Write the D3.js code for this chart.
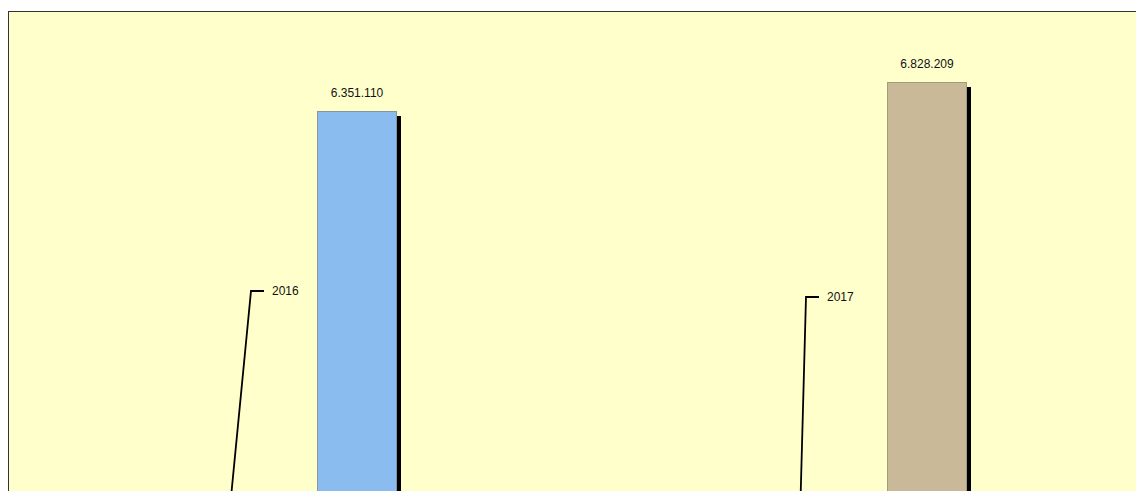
<!DOCTYPE html>
<html>
<head>
<meta charset="utf-8">
<script src="https://cdn.jsdelivr.net/npm/d3@7"></script>
<style>
  html, body { margin: 0; padding: 0; background: #fff; }
  svg { display: block; font-family: "Liberation Sans", Arial, sans-serif; }
</style>
</head>
<body>
<script>
// 데이터
const years = ['2016', '2017'];
const amounts = [6351110, 6828209];
const valueLabels = ['6.351.110', '6.828.209'];
const barColors = ['#8bbcf0', '#cab999'];
const edgeColors = ['#8a949c', '#a19d76'];

const width = 1136, height = 491;
const frame = { left: 8.5, top: 11.5 };
const baseY = 497;      // 기준선은 화면 아래쪽으로 잘려 있음
const barWidth = 80;

const svg = d3.select(document.body)
  .append('svg')
  .attr('width', width)
  .attr('height', height);

// 배경
svg.append('rect')
  .attr('x', frame.left).attr('y', frame.top)
  .attr('width', width + 10).attr('height', height + 10)
  .attr('fill', '#ffffcc')
  .attr('stroke', '#333')
  .attr('stroke-width', 1);

const xScale = d3.scalePoint()
  .domain(years)
  .range([357, 927]);

const yScale = d3.scaleLinear()
  .domain([0, d3.max(amounts)])
  .range([baseY, 82]);

const g = svg.append('g');

// 그림자
g.selectAll('.shadow')
  .data(years)
  .join('rect')
  .attr('class', 'shadow')
  .attr('x', d => xScale(d) - barWidth / 2 + 4)
  .attr('y', (d, i) => yScale(amounts[i]) + 5)
  .attr('width', barWidth)
  .attr('height', (d, i) => baseY - yScale(amounts[i]))
  .attr('fill', '#000');

// 막대
g.selectAll('.bar')
  .data(years)
  .join('rect')
  .attr('class', 'bar')
  .attr('x', d => xScale(d) - barWidth / 2 + 0.5)
  .attr('y', (d, i) => yScale(amounts[i]) + 0.5)
  .attr('width', barWidth - 1)
  .attr('height', (d, i) => baseY - yScale(amounts[i]))
  .attr('fill', (d, i) => barColors[i])
  .attr('stroke', (d, i) => edgeColors[i])
  .attr('stroke-width', 1);

// 값 표시
g.selectAll('.value')
  .data(years)
  .join('text')
  .attr('class', 'value')
  .attr('x', d => xScale(d))
  .attr('y', (d, i) => yScale(amounts[i]) - 14)
  .attr('text-anchor', 'middle')
  .attr('font-size', 12)
  .attr('fill', '#111')
  .text((d, i) => valueLabels[i]);

// 연도 지시선 (막대 중심 기준 위치)
const leader = [
  { dx: -106, y: 291, slope: 0.097 },
  { dx: -121, y: 297, slope: 0.027 }
];
years.forEach((d, i) => {
  const L = leader[i];
  const ex = xScale(d) + L.dx;
  const endY = height + 20;
  g.append('path')
    .attr('d', `M${ex - L.slope * (endY - L.y)},${endY} L${ex},${L.y} L${ex + 13},${L.y}`)
    .attr('fill', 'none')
    .attr('stroke', '#000')
    .attr('stroke-width', 1.8);
  g.append('text')
    .attr('x', ex + 21)
    .attr('y', L.y + 4)
    .attr('font-size', 12)
    .attr('fill', '#111')
    .text(d);
});
</script>
</body>
</html>
